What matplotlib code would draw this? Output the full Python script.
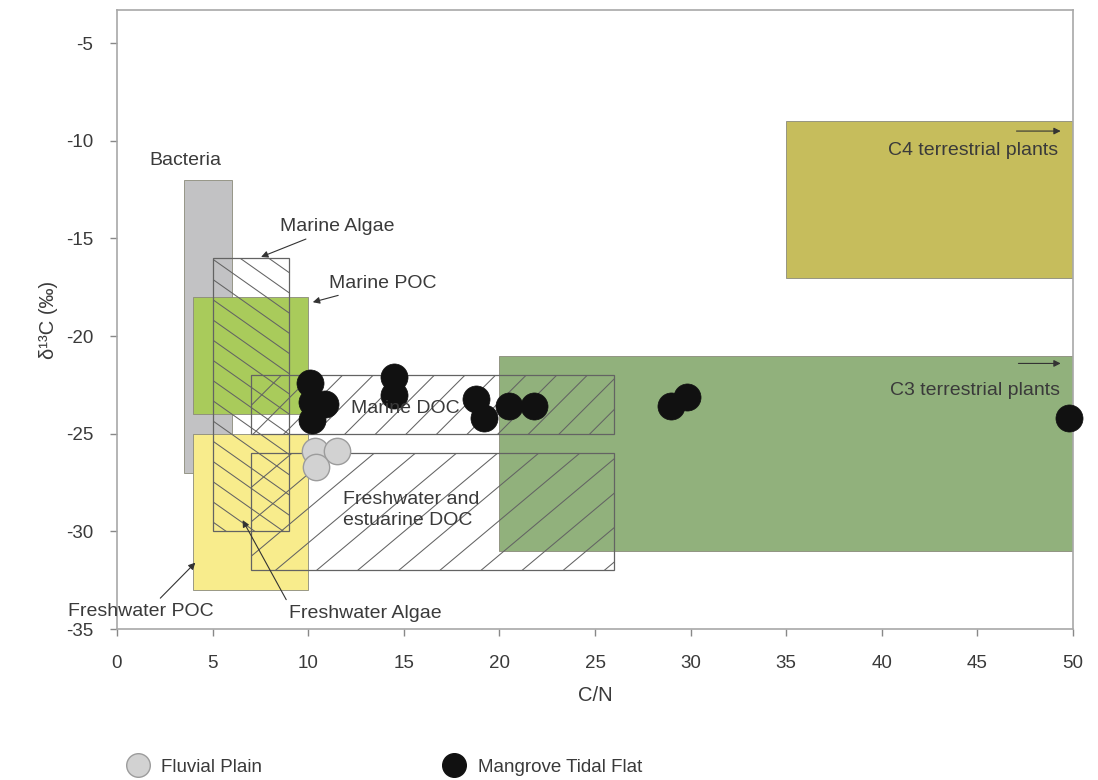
import numpy as np
import matplotlib
matplotlib.use("Agg")
import matplotlib.pyplot as plt
from matplotlib.patches import Rectangle
from matplotlib.lines import Line2D

plt.rcParams['font.family'] = ['Liberation Sans', 'DejaVu Sans']
plt.rcParams['axes.unicode_minus'] = False

# ── data ─────────────────────────────────────────────────────────────────────
# filled source boxes: (C/N min, C/N max, d13C min, d13C max)
filled_names  = ["Bacteria", "Marine POC", "Freshwater POC", "C3 terrestrial plants", "C4 terrestrial plants"]
filled_cn     = [(3.5, 6.0), (4.0, 10.0), (4.0, 10.0), (20.0, 50.0), (35.0, 50.0)]
filled_d13c   = [(-27.0, -12.0), (-24.0, -18.0), (-33.0, -25.0), (-31.0, -21.0), (-17.0, -9.0)]
filled_colors = ["#c2c2c4", "#a9cb5b", "#f8ec8c", "#91b17c", "#c6bd5c"]

# hatched source boxes
hatch_names = ["Marine Algae", "Marine DOC", "Freshwater and estuarine DOC"]
hatch_cn    = [(5.0, 9.0), (7.0, 26.0), (7.0, 26.0)]
hatch_d13c  = [(-30.0, -16.0), (-25.0, -22.0), (-32.0, -26.0)]

mangrove_cn   = [10.1, 10.2, 10.9, 10.2, 14.5, 14.5, 18.8, 19.2, 20.5, 21.8, 29.0, 29.8, 49.8]
mangrove_d13c = [-22.4, -23.4, -23.5, -24.3, -22.1, -23.0, -23.2, -24.2, -23.6, -23.6, -23.6, -23.1, -24.2]

fluvial_cn   = [10.35, 11.5, 10.4]
fluvial_d13c = [-25.9, -25.9, -26.7]

x_ticks = [0, 5, 10, 15, 20, 25, 30, 35, 40, 45, 50]
y_ticks = [-35, -30, -25, -20, -15, -10, -5]

TXT = "#3a3a3a"
HATCH = "#636363"


def hatch_box(ax, cn, d13c, step, slope):
    x0, x1 = cn
    y0, y1 = d13c
    box = Rectangle((x0, y0), x1 - x0, y1 - y0, fill=False,
                    edgecolor=HATCH, lw=0.9, zorder=4)
    ax.add_patch(box)
    span = (y1 - y0) / abs(slope)
    for c in np.arange(x0 - span - step, x1 + span + step, step):
        xs = np.array([c - 2 * span - 2, c + 2 * span + 2])
        ys = y0 + slope * (xs - c)
        ln, = ax.plot(xs, ys, color=HATCH, lw=0.75, zorder=4)
        ln.set_clip_path(box)


fig = plt.figure(figsize=(10.98, 7.80), dpi=100)
ax = fig.add_axes([117 / 1098, 1 - 629 / 780, (1073 - 117) / 1098, (629 - 10) / 780])

for (x0, x1), (y0, y1), col in zip(filled_cn, filled_d13c, filled_colors):
    ax.add_patch(Rectangle((x0, y0), x1 - x0, y1 - y0, facecolor=col,
                           edgecolor="#8a8a7a", lw=0.6, zorder=2))

hatch_box(ax, hatch_cn[0], hatch_d13c[0], step=1.5, slope=-0.69)
hatch_box(ax, hatch_cn[1], hatch_d13c[1], step=1.6, slope=0.98)
hatch_box(ax, hatch_cn[2], hatch_d13c[2], step=2.15, slope=0.82)

ax.scatter(fluvial_cn, fluvial_d13c, s=360, facecolor="#d2d2d2",
           edgecolor="#9c9c9c", lw=1.0, zorder=6, clip_on=False)
ax.scatter(mangrove_cn, mangrove_d13c, s=380, facecolor="#111111",
           edgecolor="#111111", lw=0.5, zorder=7, clip_on=False)

# ── labels on the boxes ──────────────────────────────────────────────────────
arr = dict(arrowstyle="-|>", color="#333333", lw=0.8, mutation_scale=10)
fs = 14
ax.text(3.6, -11.0, "Bacteria", ha="center", va="center", fontsize=fs, color=TXT, zorder=8)
ax.annotate("Marine Algae", xy=(7.4, -16.0), xytext=(8.5, -14.4), ha="left", va="center",
            fontsize=fs, color=TXT, arrowprops=arr, zorder=8)
ax.annotate("Marine POC", xy=(10.1, -18.3), xytext=(11.1, -17.3), ha="left", va="center",
            fontsize=fs, color=TXT, arrowprops=arr, zorder=8)
ax.text(15.1, -23.7, "Marine DOC", ha="center", va="center", fontsize=fs, color=TXT, zorder=8)
ax.text(11.8, -28.9, "Freshwater and\nestuarine DOC", ha="left", va="center",
        fontsize=fs, color=TXT, linespacing=1.25, zorder=8)
ax.annotate("Freshwater POC", xy=(4.2, -31.5), xytext=(-2.55, -34.1), ha="left", va="center",
            fontsize=fs, color=TXT, annotation_clip=False,
            arrowprops=dict(arr, relpos=(0.6, 1.0)), zorder=8)
ax.annotate("Freshwater Algae", xy=(6.5, -29.3), xytext=(9.0, -34.2), ha="left", va="center",
            fontsize=fs, color=TXT, arrowprops=dict(arr, relpos=(0.0, 1.0)), zorder=8)
ax.text(49.2, -10.5, "C4 terrestrial plants", ha="right", va="center", fontsize=fs, color=TXT, zorder=8)
ax.annotate("", xy=(49.5, -9.5), xytext=(46.9, -9.5), arrowprops=arr, zorder=8)
ax.text(49.3, -22.8, "C3 terrestrial plants", ha="right", va="center", fontsize=fs, color=TXT, zorder=8)
ax.annotate("", xy=(49.5, -21.4), xytext=(47.0, -21.4), arrowprops=arr, zorder=8)

# ── axes styling ─────────────────────────────────────────────────────────────
ax.set_xlim(0, 50)
ax.set_ylim(-35, -3.3)
ax.set_xticks(x_ticks)
ax.set_yticks(y_ticks)
ax.tick_params(axis="both", colors="#888888", labelcolor=TXT, labelsize=13.5,
               length=5, width=1)
ax.tick_params(axis="x", pad=14)
ax.tick_params(axis="y", pad=12)
for sp in ax.spines.values():
    sp.set_color("#a8a8a8")
    sp.set_linewidth(1.2)

ax.set_xlabel("C/N", fontsize=14.5, color=TXT, labelpad=10)
ax.set_ylabel("δ¹³C (‰)", fontsize=14.5, color=TXT, labelpad=6)

handles = [
    Line2D([], [], ls="", marker="o", markersize=17, markerfacecolor="#d2d2d2",
           markeredgecolor="#9c9c9c", label="Fluvial Plain"),
    Line2D([], [], ls="", marker="o", markersize=17, markerfacecolor="#111111",
           markeredgecolor="#111111", label="Mangrove Tidal Flat"),
]
leg = fig.legend(handles=handles, loc="lower left", bbox_to_anchor=(0.093, -0.016),
                 ncol=2, frameon=False, fontsize=13.5, columnspacing=9.25,
                 handletextpad=0.25)
for t in leg.get_texts():
    t.set_color(TXT)

plt.savefig("out.png", dpi=100)
